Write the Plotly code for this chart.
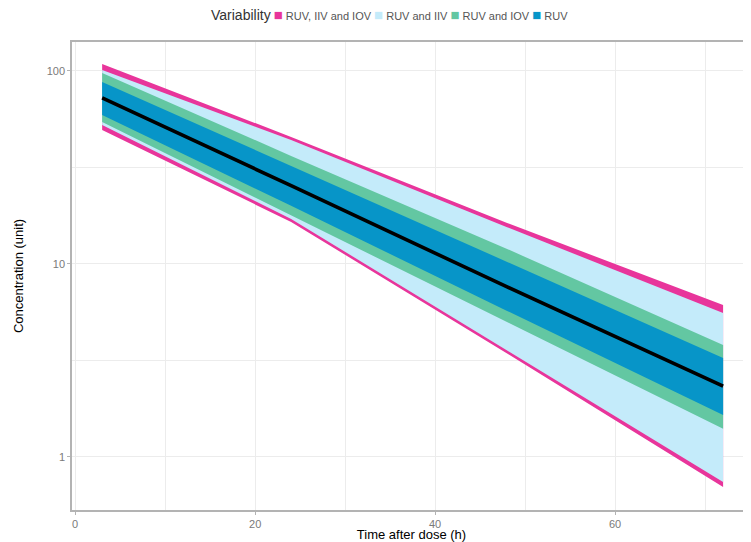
import plotly.graph_objects as go

# Time points (h)
time_h = [3, 24, 48, 72]

# Band edges (concentration, unit)
ruv_iiv_iov_hi = [108.7, 45.5, 16.3, 6.13]
ruv_iiv_iov_lo = [49.5, 16.5, 3.44, 0.699]
ruv_iiv_hi = [101.2, 43.9, 15.5, 5.57]
ruv_iiv_lo = [52.5, 17.1, 3.58, 0.742]
ruv_iov_hi = [97.6, 36.3, 11.96, 3.80]
ruv_iov_lo = [54.4, 17.9, 5.01, 1.40]
ruv_hi = [87.7, 32.2, 10.2, 3.26]
ruv_lo = [59.2, 20.0, 5.71, 1.65]
median = [72.5, 25.45, 7.60, 2.33]

band_names = ["RUV, IIV and IOV", "RUV and IIV", "RUV and IOV", "RUV"]
band_colors = ["#e8359b", "#c4ebfa", "#63c7a2", "#0795c8"]
band_hi = [ruv_iiv_iov_hi, ruv_iiv_hi, ruv_iov_hi, ruv_hi]
band_lo = [ruv_iiv_iov_lo, ruv_iiv_lo, ruv_iov_lo, ruv_lo]

fig = go.Figure()

for name, col, hi, lo in zip(band_names, band_colors, band_hi, band_lo):
    fig.add_trace(go.Scatter(
        x=time_h + time_h[::-1],
        y=hi + lo[::-1],
        fill="toself", fillcolor=col,
        mode="lines", line=dict(width=0, color=col),
        name=name, showlegend=False, hoverinfo="skip",
    ))

fig.add_trace(go.Scatter(
    x=time_h, y=median, mode="lines",
    line=dict(color="black", width=3.6),
    showlegend=False,
))

# compact ggplot-style legend as a single rich-text annotation
parts = ["<span style='color:#333333;font-size:14px'>Variability</span> "]
for name, col in zip(band_names, band_colors):
    parts.append(f"<span style='color:{col};font-size:15px'>■</span> {name} ")
fig.add_annotation(
    text="".join(parts).strip(),
    xref="paper", yref="paper", x=0.467, y=1.0, yshift=28,
    xanchor="center", yanchor="middle", showarrow=False,
    font=dict(family="Liberation Sans, Arial, sans-serif", size=11, color="#555555"),
)

grid = "#ececec"
axcol = "#b3b3b3"
tickfont = dict(family="Liberation Sans, Arial, sans-serif", size=11, color="#7a7a7a")

fig.update_layout(
    width=743, height=534,
    margin=dict(l=64, r=0, t=34, b=32),
    paper_bgcolor="white", plot_bgcolor="white",
    font=dict(family="Liberation Sans, Arial, sans-serif", color="black"),
    showlegend=False,
    xaxis=dict(
        range=[-0.35, 75.1], automargin=False,
        tickvals=[0, 20, 40, 60],
        showgrid=True, gridcolor=grid, gridwidth=1,
        minor=dict(tickvals=[10, 30, 50, 70], showgrid=True, gridcolor=grid, gridwidth=0.7, ticklen=0),
        showline=True, linecolor=axcol, linewidth=1.5, mirror=True,
        ticks="outside", ticklen=3, tickcolor=axcol,
        tickfont=tickfont, zeroline=False,
        title=dict(text="Time after dose (h)", font=dict(size=13, color="black"), standoff=4),
    ),
    yaxis=dict(
        type="log", range=[-0.275, 2.15], automargin=False,
        tickvals=[1, 10, 100], ticktext=["1", "10", "100"],
        showgrid=True, gridcolor=grid, gridwidth=1,
        minor=dict(tickvals=[0.3162, 3.162, 31.62], showgrid=True, gridcolor=grid, gridwidth=0.7, ticklen=0),
        showline=True, linecolor=axcol, linewidth=1.5, mirror=True,
        ticks="outside", ticklen=3, tickcolor=axcol,
        tickfont=tickfont, zeroline=False,
        title=dict(text="Concentration (unit)", font=dict(size=13, color="black"), standoff=20),
    ),
)

fig.write_html("out.html")
